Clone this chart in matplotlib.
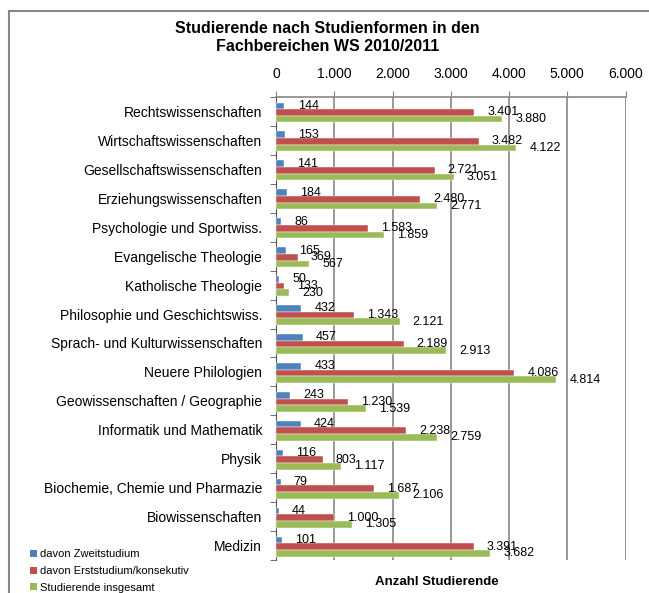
import numpy as np
import matplotlib
matplotlib.use('Agg')
import matplotlib.pyplot as plt
from matplotlib.patches import Patch
from matplotlib.lines import Line2D

plt.rcParams['font.family'] = ['Liberation Sans', 'DejaVu Sans']

# Daten
fachbereiche = ["Rechtswissenschaften", "Wirtschaftswissenschaften", "Gesellschaftswissenschaften",
                "Erziehungswissenschaften", "Psychologie und Sportwiss.", "Evangelische Theologie",
                "Katholische Theologie", "Philosophie und Geschichtswiss.",
                "Sprach- und Kulturwissenschaften", "Neuere Philologien",
                "Geowissenschaften / Geographie", "Informatik und Mathematik", "Physik",
                "Biochemie, Chemie und Pharmazie", "Biowissenschaften", "Medizin"]
zweitstudium = [144, 153, 141, 184, 86, 165, 50, 432, 457, 433, 243, 424, 116, 79, 44, 101]
erststudium = [3401, 3482, 2721, 2480, 1583, 369, 133, 1343, 2189, 4086, 1230, 2238, 803, 1687, 1000, 3391]
insgesamt = [3880, 4122, 3051, 2771, 1859, 567, 230, 2121, 2913, 4814, 1539, 2759, 1117, 2106, 1305, 3682]
serien = ["davon Zweitstudium", "davon Erststudium/konsekutiv", "Studierende insgesamt"]
farben = ["#4F81BD", "#C0504D", "#9BBB59"]
xticks = [0, 1000, 2000, 3000, 4000, 5000, 6000]


def fmt(v):
    return f"{v:,}".replace(",", ".")


fig = plt.figure(figsize=(6.49, 5.93), dpi=100)
ax = fig.add_axes([0.4253, 0.0556, 0.5385, 0.7808])

n = len(fachbereiche)
y = np.arange(n)
h = 0.23
for i, (werte, farbe) in enumerate(zip([zweitstudium, erststudium, insgesamt], farben)):
    pos = y + (i - 1) * h + 0.035
    ax.barh(pos, werte, height=h, color=farbe, edgecolor='white', linewidth=0.3, zorder=3)
    for p, v in zip(pos, werte):
        ax.annotate(fmt(v), (v, p), xytext=(9.5, 0), textcoords='offset points',
                    va='center', ha='left', fontsize=9, color='black', zorder=4)

ax.set_ylim(n - 0.5, -0.5)
ax.set_xlim(0, 6000)
ax.set_yticks(y)
ax.set_yticklabels(fachbereiche, fontsize=10)
ax.set_yticks(np.arange(-0.5, n), minor=True)
ax.tick_params(axis='y', which='major', length=0, pad=10)
ax.tick_params(axis='y', which='minor', length=4, color='#555555', direction='out')

ax.xaxis.tick_top()
ax.set_xticks(xticks)
ax.set_xticklabels([fmt(t) for t in xticks], fontsize=10)
ax.tick_params(axis='x', length=4, color='#868686', pad=7.5)
ax.grid(axis='x', color='#868686', linewidth=1.2, zorder=0)

ax.spines['bottom'].set_visible(False)
ax.spines['right'].set_visible(False)
ax.spines['top'].set_color('#868686')
ax.spines['top'].set_linewidth(1.2)
ax.spines['left'].set_color('#555555')

ax.set_xlabel("Anzahl Studierende", fontsize=9.5, fontweight='bold')
ax.xaxis.set_label_coords(0.46, -0.034)

fig.text(0.505, 0.964, "Studierende nach Studienformen in den\nFachbereichen WS 2010/2011",
         ha='center', va='top', fontsize=11.5, fontweight='bold', linespacing=1.2)

handles = [Patch(facecolor=f, edgecolor='none') for f in farben]
fig.legend(handles, serien, loc='lower left', bbox_to_anchor=(0.04, -0.007), frameon=False,
           fontsize=8, handlelength=0.6, handleheight=0.6, handletextpad=0.25, labelspacing=0.6,
           borderaxespad=0)

# Rahmen
fig.add_artist(Line2D([9 / 649, 1], [1 - 11 / 593, 1 - 11 / 593], transform=fig.transFigure,
                      color='#868686', linewidth=1.5))
fig.add_artist(Line2D([9 / 649, 9 / 649], [0, 1 - 11 / 593], transform=fig.transFigure,
                      color='#868686', linewidth=1.5))

fig.savefig('out.png', dpi=100)
